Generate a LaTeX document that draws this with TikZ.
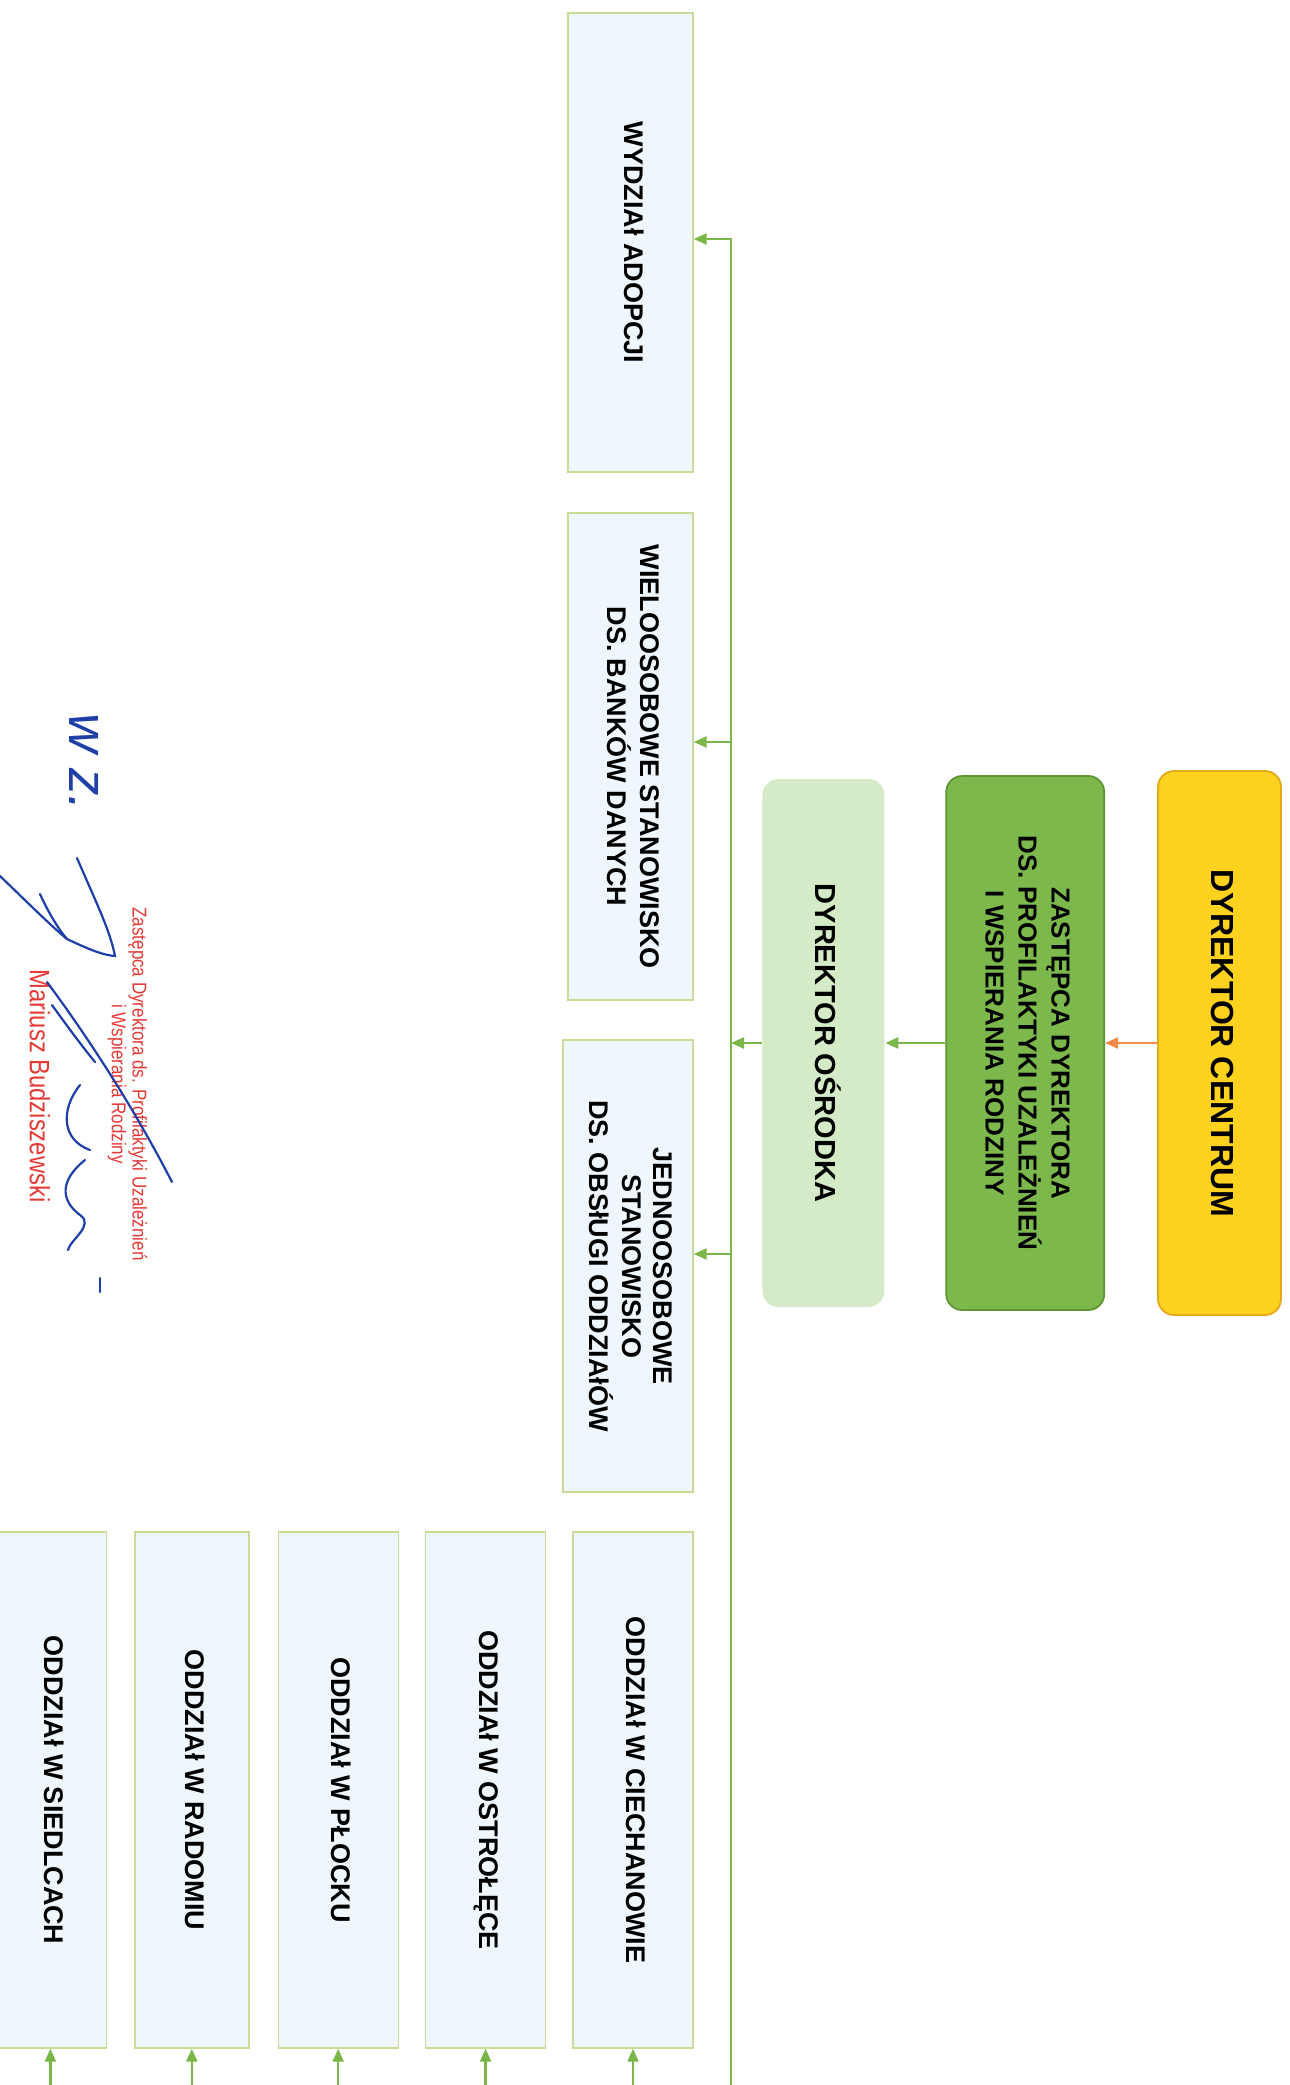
\documentclass[tikz,border=0pt]{standalone}
\usepackage{fontspec}
\setmainfont{Liberation Sans}
\usepackage{graphicx}
\usetikzlibrary{positioning, arrows.meta}

\definecolor{centrumyellow}{HTML}{FFD21F}
\definecolor{centrumedge}{HTML}{E3A91B}
\definecolor{deputygreen}{HTML}{7DB84C}
\definecolor{deputyedge}{HTML}{5E9634}
\definecolor{palegreen}{HTML}{D5EBC8}
\definecolor{leaffill}{HTML}{F0F7FC}
\definecolor{leafedge}{HTML}{C9DB95}
\definecolor{linkgreen}{HTML}{7AB648}
\definecolor{linkorange}{HTML}{F28A4A}
\definecolor{stampred}{HTML}{E53935}
\definecolor{inkblue}{HTML}{1F3FA8}

% text turned to read downwards
\newcommand{\vtext}[3]{\rotatebox{-90}{\fontsize{#1}{#2}\selectfont\bfseries\begin{tabular}{@{}c@{}}#3\end{tabular}}}
\newcommand{\stamptext}[2]{\rotatebox{-90}{\scalebox{0.85}[1]{\fontsize{#1}{#1}\selectfont #2}}}

\begin{document}
\begin{tikzpicture}[
    x=1pt, y=-1pt,
    headbox/.style={rounded corners=16pt, inner sep=0pt, line width=1.8pt},
    leaf/.style={draw=leafedge, fill=leaffill, line width=1.4pt, inner sep=0pt, minimum width=125pt},
    branch/.style={leaf, minimum width=120pt, minimum height=516pt},
    link/.style={color=linkgreen, line width=2.4pt},
    arr/.style={link, -{Triangle[length=13pt, width=11pt]}},
    stamp/.style={text=stampred, inner sep=0pt},
    ink/.style={draw=inkblue, line width=2.2pt, line cap=round}
  ]
    \useasboundingbox (0,0) rectangle (1290,2085);

    \node[headbox, draw=centrumedge, fill=centrumyellow, minimum width=123pt, minimum height=544pt] (centrum) at (1219.5,1043) {\vtext{32}{38}{DYREKTOR CENTRUM}};
    \node[headbox, draw=deputyedge, fill=deputygreen, minimum width=158pt, minimum height=534pt, left=52pt of centrum] (zastepca) {\vtext{26}{33}{ZASTĘPCA DYREKTORA\\DS. PROFILAKTYKI UZALEŻNIEŃ\\I WSPIERANIA RODZINY}};
    \node[headbox, fill=palegreen, minimum width=122pt, minimum height=528pt, left=60pt of zastepca] (osrodek) {\vtext{29}{34}{DYREKTOR OŚRODKA}};

    \node[leaf, minimum height=459pt] (adopcja) at (630.5,242.5) {\vtext{27}{32}{WYDZIAł ADOPCJI}};
    \node[leaf, minimum height=487pt] (banki) at (630.5,756.5) {\vtext{27}{32}{WIELOOSOBOWE STANOWISKO\\DS. BANKÓW DANYCH}};
    \node[leaf, minimum width=130pt, minimum height=452pt] (obsluga) at (628,1266) {\vtext{27}{31}{JEDNOOSOBOWE\\STANOWISKO\\DS. OBSłUGI ODDZIAłÓW}};

    \node[branch] (ciechanow) at (633,1790) {\vtext{27}{32}{ODDZIAł W CIECHANOWIE}};
    \node[branch, left=26pt of ciechanow] (ostroleka) {\vtext{27}{32}{ODDZIAł W OSTROŁĘCE}};
    \node[branch, left=26pt of ostroleka] (plock) {\vtext{27}{32}{ODDZIAł W PŁOCKU}};
    \node[branch, minimum width=114pt, left=28pt of plock] (radom) {\vtext{27}{32}{ODDZIAł W RADOMIU}};
    \node[branch, minimum width=112pt, left=27pt of radom] (siedlce) {\vtext{27}{32}{ODDZIAł W SIEDLCACH}};

    \coordinate (spinetop) at (731,239);
    \coordinate (spinebot) at (731,2085);
    \coordinate (tobanki) at (731,742);
    \coordinate (toobsluga) at (731,1254);
    \coordinate (bottom) at (0,2085);

    \draw[arr, color=linkorange] (centrum) -- (zastepca);
    \draw[arr] (zastepca) -- (osrodek);
    \draw[arr] (osrodek) -- (osrodek -| spinetop);
    \draw[arr] (spinebot) -- (spinetop) -- (spinetop -| adopcja.east);
    \draw[arr] (tobanki) -- (tobanki -| banki.east);
    \draw[arr] (toobsluga) -- (toobsluga -| obsluga.east);
    \foreach \b in {ciechanow, ostroleka, plock, radom, siedlce}
      \draw[arr] (\b.south |- bottom) -- (\b.south);

    % stamp and signature
    \node[stamp] (stampline1) at (138,1084) {\stamptext{20}{Zastępca Dyrektora ds. Profilaktyki Uzależnień}};
    \node[stamp] (stampline2) at (117,1084) {\stamptext{20}{i Wspierania Rodziny}};
    \node[stamp] (stampname) at (40,1086) {\stamptext{28}{Mariusz Budziszewski}};
    \node[text=inkblue, inner sep=0pt] (wz) at (84,762) {\rotatebox{-90}{\fontsize{55}{55}\selectfont\itshape w z.}};

    \draw[ink] (77,858) .. controls (95,900) and (110,930) .. (115,956) .. controls (100,955) and (80,945) .. (67,939) .. controls (55,925) and (45,905) .. (40,894);
    \draw[ink] (0,876) .. controls (25,900) and (50,925) .. (67,939);
    \draw[ink] (47,982) .. controls (90,1040) and (135,1110) .. (172,1182);
    \draw[ink] (52,1005) .. controls (70,1030) and (85,1050) .. (95,1062);
    \draw[ink] (80,1085) .. controls (60,1110) and (62,1140) .. (90,1150);
    \draw[ink] (85,1160) .. controls (60,1180) and (60,1200) .. (80,1215) .. controls (95,1225) and (70,1240) .. (68,1250);
    \draw[ink] (100,1278) -- (100,1292);
\end{tikzpicture}
\end{document}
